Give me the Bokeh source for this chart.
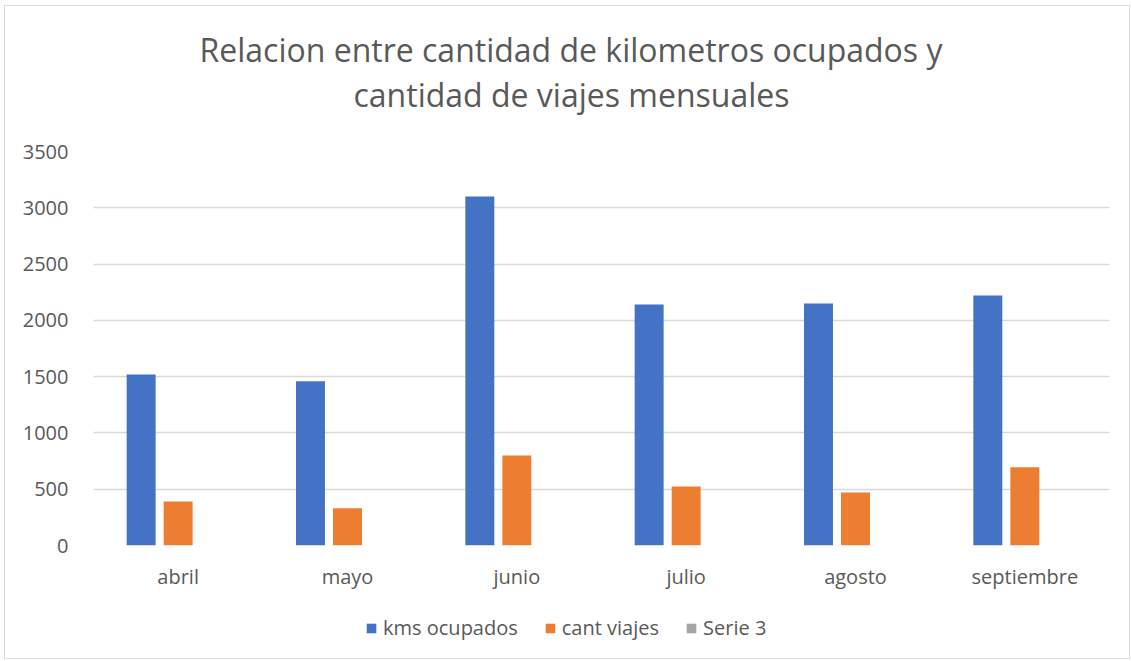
from bokeh.plotting import figure
from bokeh.models import ColumnDataSource, FactorRange, Range1d, Legend, LegendItem, FixedTicker, Title
from bokeh.layouts import column
from bokeh.transform import dodge
from bokeh.embed import file_html
from bokeh.resources import INLINE

months = ["abril", "mayo", "junio", "julio", "agosto", "septiembre"]
kms_ocupados = [1520, 1460, 3100, 2140, 2150, 2220]
cant_viajes = [390, 330, 800, 525, 470, 695]
serie_3 = [0, 0, 0, 0, 0, 0]
series_names = ["kms ocupados", "cant viajes", "Serie 3"]
colors = ["#4472C4", "#ED7D31", "#A5A5A5"]
y_ticks = [0, 500, 1000, 1500, 2000, 2500, 3000, 3500]
title_lines = ["Relacion entre cantidad de kilometros ocupados y", "cantidad de viajes mensuales"]

src = ColumnDataSource(dict(month=months, kms=kms_ocupados, viajes=cant_viajes, s3=serie_3))

FONT = "Open Sans"
GREY = "#595959"

p = figure(x_range=FactorRange(*months, range_padding=0), y_range=Range1d(0, 3500),
           frame_width=1016, frame_height=394, output_backend="svg", toolbar_location=None,
           min_border_left=88, min_border_right=20, min_border_top=145, min_border_bottom=61)

p.title.text = title_lines[0]
t2 = Title(text=title_lines[1])
for t, off in ((p.title, 106), (t2, 260)):
    t.align = "left"
    t.offset = off
    t.text_font = FONT
    t.text_font_size = "32px"
    t.text_font_style = "normal"
    t.text_color = GREY
t2.standoff = 72
p.title.standoff = -72
p.add_layout(t2, "above")

bw = 0.171
step = 0.2186
fields = ["kms", "viajes", "s3"]
for i, f in enumerate(fields):
    p.vbar(x=dodge("month", (i - 1) * step, range=p.x_range), top=f, width=bw,
           source=src, fill_color=colors[i], line_color=None)

p.yaxis.ticker = FixedTicker(ticks=y_ticks)
for ax in (p.xaxis, p.yaxis):
    ax.axis_line_color = None
    ax.major_tick_line_color = None
    ax.minor_tick_line_color = None
    ax.major_label_text_font = FONT
    ax.major_label_text_font_size = "20px"
    ax.major_label_text_color = GREY
p.yaxis.major_label_standoff = 19
p.xaxis.major_label_standoff = 11

p.xgrid.grid_line_color = None
p.ygrid.grid_line_color = "#d9d9d9"
p.ygrid.grid_line_width = 1.5
p.outline_line_color = None

# legend strip below the chart: hidden copies of the series serve only as legend keys
lg = figure(width=1124, height=52, x_range=FactorRange(*months), y_range=Range1d(0, 3500),
            output_backend="svg", toolbar_location=None, min_border=0)
lg.axis.visible = False
lg.grid.visible = False
lg.outline_line_color = None
key_renderers = []
for i, f in enumerate(fields):
    r = lg.vbar(x="month", top=f, width=bw, source=src, fill_color=colors[i], line_color=None)
    r.visible = False
    key_renderers.append(r)
legend = Legend(items=[LegendItem(label=series_names[i], renderers=[key_renderers[i]]) for i in range(3)],
                orientation="horizontal", location=(272, 17),
                label_text_font=FONT, label_text_font_size="20px", label_text_color=GREY,
                glyph_width=12, glyph_height=12, spacing=26, label_standoff=6,
                inactive_fill_alpha=0, click_policy="none",
                border_line_color=None, background_fill_alpha=0, margin=0, padding=0)
lg.add_layout(legend, "center")

layout = column(p, lg, spacing=0,
                styles={"border": "1px solid #d9d9d9", "margin-left": "4px", "margin-top": "5px"})

open("out.html", "w").write(file_html(layout, INLINE))
